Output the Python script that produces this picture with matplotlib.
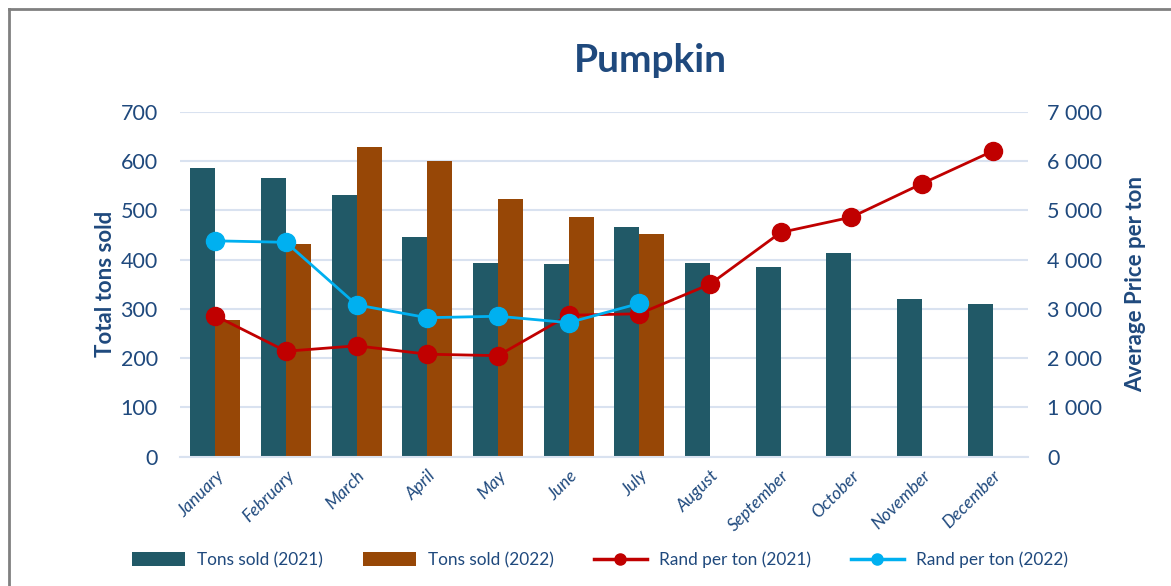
import matplotlib
matplotlib.use("Agg")
import matplotlib.pyplot as plt
import numpy as np
from matplotlib.lines import Line2D
from matplotlib.patches import Patch

months = ["January", "February", "March", "April", "May", "June", "July",
          "August", "September", "October", "November", "December"]
tons_2021 = [586, 566, 531, 446, 393, 392, 466, 394, 385, 413, 319, 310]
tons_2022 = [278, 431, 629, 600, 523, 487, 452]
rand_2021 = [2860, 2140, 2250, 2080, 2050, 2870, 2900, 3500, 4550, 4860, 5540, 6200]
rand_2022 = [4380, 4350, 3080, 2820, 2850, 2720, 3110]

TEAL = "#215967"
BROWN = "#974706"
RED = "#C00000"
LBLUE = "#00B0F0"
TXT = "#1F497D"
GRID = "#D9E2F0"

plt.rcParams['font.family'] = ['Lato', 'DejaVu Sans']

W, H = 1171, 586
fig = plt.figure(figsize=(W / 100, H / 100), dpi=100)
ax = fig.add_axes([180 / W, 1 - 456.7 / H, (1028 - 180) / W, (456.7 - 111.7) / H])

x = np.arange(len(months))
bw = 0.354
ax.bar(x[:len(tons_2021)] - bw / 2, tons_2021, width=bw, color=TEAL, zorder=2)
ax.bar(x[:len(tons_2022)] + bw / 2, tons_2022, width=bw, color=BROWN, zorder=2)
ax.set_ylim(0, 700)
ax.set_xlim(-0.5, len(months) - 0.5)
ax.set_yticks(range(0, 701, 100))
ax.yaxis.grid(True, color=GRID, linewidth=1.5, zorder=0)
ax.set_axisbelow(True)
for s in ["top", "right", "left"]:
    ax.spines[s].set_visible(False)
ax.spines["bottom"].set_color(GRID)
ax.spines["bottom"].set_linewidth(1.5)
ax.tick_params(axis="both", length=0, colors=TXT)
ax.tick_params(axis="y", labelsize=15.5, pad=16)
ax.set_xticks(x)
ax.set_xticklabels(months, rotation=45, ha="right", rotation_mode="anchor",
                   fontsize=12.5, style="italic", color=TXT)
ax.tick_params(axis="x", pad=8)
ax.set_ylabel("Total tons sold", fontsize=16, fontweight="bold", color=TXT, labelpad=3)

ax2 = ax.twinx()
ax2.plot(x[:len(rand_2021)], rand_2021, color=RED, linewidth=2, marker="o",
         markersize=13, zorder=3)
ax2.plot(x[:len(rand_2022)], rand_2022, color=LBLUE, linewidth=2, marker="o",
         markersize=13, zorder=3)
ax2.set_ylim(0, 7000)
ax2.set_yticks(range(0, 7001, 1000))
ax2.set_yticklabels([f"{v:,}".replace(",", " ") for v in range(0, 7001, 1000)])
for s in ["top", "right", "left", "bottom"]:
    ax2.spines[s].set_visible(False)
ax2.tick_params(axis="y", length=0, colors=TXT, labelsize=15.5, pad=14)
ax2.set_ylabel("Average Price per ton", fontsize=16, fontweight="bold", color=TXT, labelpad=16)

fig.text(650 / W, 1 - 61 / H, "Pumpkin", ha="center", va="center",
         fontsize=28, fontweight="bold", color=TXT)

handles = [Patch(facecolor=TEAL), Patch(facecolor=BROWN),
           Line2D([], [], color=RED, linewidth=2.5, marker="o", markersize=8),
           Line2D([], [], color=LBLUE, linewidth=2.5, marker="o", markersize=8)]
labels = ["Tons sold (2021)", "Tons sold (2022)", "Rand per ton (2021)", "Rand per ton (2022)"]
leg = fig.legend(handles, labels, loc="center", bbox_to_anchor=(600 / W, 1 - 560 / H),
                 ncol=4, frameon=False, fontsize=12.4, columnspacing=2.3,
                 handlelength=3.1, handleheight=0.9, handletextpad=0.7)
for t in leg.get_texts():
    t.set_color(TXT)

# outer border (top and left)
fig.add_artist(Line2D([9 / W, 9 / W], [0, 1 - 9 / H], transform=fig.transFigure,
                      color="#808080", linewidth=2))
fig.add_artist(Line2D([9 / W, 1], [1 - 9 / H, 1 - 9 / H], transform=fig.transFigure,
                      color="#808080", linewidth=2))

fig.savefig("out.png", dpi=100)
